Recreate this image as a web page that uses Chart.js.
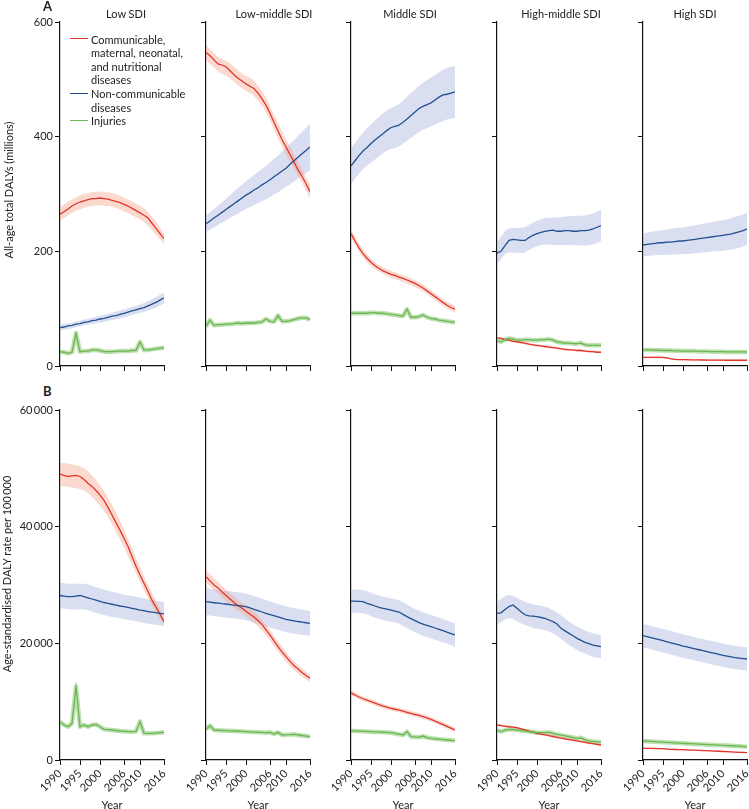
<!DOCTYPE html>
<html>
<head>
<meta charset="utf-8">
<script src="https://cdn.jsdelivr.net/npm/chart.js@4.4.1/dist/chart.umd.min.js"></script>
<style>
  body { margin: 0; background: #fff; font-family: Lato, "Open Sans", sans-serif; color: #222; }
  #wrap { position: relative; width: 749px; height: 809px; overflow: hidden; }
  #wrap canvas { position: absolute; }
  .txt { position: absolute; font-size: 11px; line-height: 1; white-space: nowrap; }
  .swatch { position: absolute; width: 18px; height: 0; }
</style>
</head>
<body>
<div id="wrap"></div>
<script>
// x values shared by every mean line, and the coarser years the uncertainty bands are read at
const years = [1990, 1991, 1992, 1993, 1994, 1995, 1996, 1997, 1998, 1999, 2000, 2001, 2002, 2003,
  2004, 2005, 2006, 2007, 2008, 2009, 2010, 2011, 2012, 2013, 2014, 2015, 2016];
const bandYears = [1990, 1993, 1996, 1999, 2002, 2005, 2008, 2011, 2014, 2016];
const xTicks = [1990, 1995, 2000, 2006, 2010, 2016];
const yTicksA = [0, 200, 400, 600];
const yTicksB = [0, 20000, 40000, 60000];
const sdiGroups = ['Low SDI', 'Low-middle SDI', 'Middle SDI', 'High-middle SDI', 'High SDI'];
const legendLines = [
  ['Communicable,', 'maternal, neonatal,', 'and nutritional', 'diseases'],
  ['Non-communicable', 'diseases'],
  ['Injuries']
];

// ---- A: all-age total DALYs (millions) ----
const dalyLowCmnn = [265, 269, 274, 279, 283, 286, 288, 290, 292, 292, 293, 292, 291, 289, 287, 285, 282, 279, 275, 271, 267, 263, 258, 249, 240, 231, 222];
const dalyLowNcd = [67, 68, 70, 71, 73, 74, 76, 77, 79, 80, 82, 83, 85, 87, 88, 90, 92, 94, 96, 98, 100, 102, 105, 108, 111, 115, 119];
const dalyLowInj = [25, 24, 22, 24, 57, 25, 26, 26, 28, 28, 27, 25, 25, 25, 25.5, 26, 26, 26, 27, 27, 42, 28, 28, 29, 30, 31, 32];
const dalyLowCmnnLo = [253, 267, 276, 280, 279, 273, 263, 251, 229, 213];
const dalyLowCmnnHi = [277, 291, 300, 304, 303, 297, 287, 275, 251, 231];
const dalyLowNcdLo = [62, 66, 71, 74, 79, 83, 89, 94, 102, 110];
const dalyLowNcdHi = [72, 76, 81, 86, 91, 97, 103, 110, 120, 128];

const dalyLowMidCmnn = [547, 541, 534, 527, 525, 522, 515, 508, 502, 497, 492, 488, 484, 476, 466, 455, 441, 425, 410, 395, 382, 369, 356, 342, 331, 318, 304];
const dalyLowMidNcd = [248, 253, 258, 263, 268, 273, 278, 283, 288, 293, 298, 302, 307, 311, 316, 320, 325, 330, 335, 340, 345, 352, 358, 364, 370, 376, 382];
const dalyLowMidInj = [69, 80, 71, 72, 72, 73, 73, 74, 75, 74, 75, 75, 75, 76, 77, 82, 78, 77, 88, 78, 78, 79, 81, 83, 84, 84, 81];
const dalyLowMidCmnnLo = [534, 514, 502, 484, 471, 442, 397, 356, 319, 292];
const dalyLowMidCmnnHi = [560, 540, 528, 510, 497, 468, 423, 382, 343, 316];
const dalyLowMidNcdLo = [234, 246, 258, 270, 281, 291, 303, 317, 332, 341];
const dalyLowMidNcdHi = [262, 280, 298, 316, 333, 349, 367, 387, 408, 423];

const dalyMidCmnn = [231, 218, 206, 196, 188, 181, 175, 170, 166, 163, 160, 158, 155, 153, 150, 147, 144, 140, 136, 131, 126, 121, 116, 111, 106, 102, 99];
const dalyMidNcd = [349, 358, 367, 375, 381, 388, 394, 400, 405, 411, 416, 418, 420, 425, 431, 437, 443, 449, 453, 456, 459, 464, 469, 473, 474, 476, 478];
const dalyMidInj = [92, 92, 92, 92, 92, 93, 93, 92, 92, 91, 90, 89, 88, 87, 99, 85, 85, 86, 89, 85, 83, 82, 80, 79, 78, 77, 76];
const dalyMidCmnnLo = [224, 189, 169, 157, 149, 141, 130, 115, 100, 93];
const dalyMidCmnnHi = [238, 203, 181, 169, 161, 153, 142, 127, 112, 105];
const dalyMidNcdLo = [318, 343, 360, 376, 383, 398, 412, 421, 430, 433];
const dalyMidNcdHi = [380, 407, 428, 446, 457, 476, 494, 507, 520, 523];

const dalyHighMidCmnn = [49, 48, 46, 45, 43, 42, 41, 40, 38, 37, 36, 35, 34, 33, 32, 31, 30, 29, 28, 28, 27, 27, 26, 25, 25, 24, 24];
const dalyHighMidNcd = [197, 200, 210, 219, 221, 220, 219, 219, 224, 228, 231, 233, 235, 236, 237, 235, 235, 236, 236, 235, 235, 236, 236, 237, 239, 242, 245];
const dalyHighMidInj = [44, 42, 46, 48, 47, 45, 45, 46, 46, 45, 45, 46, 46, 47, 45, 42, 41, 40, 40, 39, 39, 40, 37, 36, 36, 36, 36];
const dalyHighMidCmnnLo = [47, 43, 39, 35, 32, 29, 26, 25, 23, 22];
const dalyHighMidCmnnHi = [51, 47, 43, 39, 36, 33, 30, 29, 27, 26];
const dalyHighMidNcdLo = [178, 198, 197, 206, 212, 211, 211, 210, 212, 218];
const dalyHighMidNcdHi = [216, 240, 241, 250, 258, 259, 261, 262, 266, 272];

const dalyHighCmnn = [15, 15, 15, 15, 15, 15, 14, 12.5, 11.5, 11, 11, 11, 10.8, 10.7, 10.6, 10.5, 10.4, 10.3, 10.2, 10.2, 10.1, 10, 10, 10, 10, 10, 10];
const dalyHighNcd = [211, 212, 213, 214, 215, 215, 216, 216, 217, 218, 218, 219, 220, 221, 222, 223, 224, 225, 226, 227, 228, 229, 230, 232, 234, 236, 239];
const dalyHighInj = [28, 28, 28, 27.5, 27.5, 27, 27, 27, 26.5, 26.5, 26, 26, 26, 26, 25.5, 25.5, 25.5, 25, 25, 25, 25, 24.5, 24.5, 24.5, 24.5, 24.5, 24.5];
const dalyHighCmnnLo = [13.5, 13.5, 12.5, 9.5, 9.3, 9, 8.7, 8.5, 8.5, 8.5];
const dalyHighCmnnHi = [16.5, 16.5, 15.5, 12.5, 12.3, 12, 11.7, 11.5, 11.5, 11.5];
const dalyHighNcdLo = [191, 193, 194, 195, 196, 198, 200, 202, 206, 211];
const dalyHighNcdHi = [231, 235, 238, 241, 244, 248, 252, 256, 262, 267];

// ---- B: age-standardised DALY rate per 100 000 ----
const rateLowCmnn = [49000, 48800, 48600, 48700, 48800, 48600, 48100, 47450, 46900, 46200, 45400, 44500, 43300, 42000, 40700, 39400, 38000, 36600, 34900, 33200, 31700, 30300, 28900, 27400, 26200, 25000, 23700];
const rateLowNcd = [28200, 28100, 28000, 28000, 28100, 28200, 28000, 27800, 27600, 27400, 27200, 27000, 26850, 26700, 26550, 26400, 26300, 26150, 26000, 25850, 25700, 25600, 25450, 25350, 25250, 25150, 25050];
const rateLowInj = [6570, 6000, 5710, 6290, 12570, 5710, 6000, 5710, 6000, 6100, 5710, 5260, 5200, 5140, 5050, 4970, 4920, 4880, 4860, 4900, 6570, 4570, 4570, 4570, 4620, 4680, 4740];
const rateLowCmnnLo = [47000, 46700, 46200, 44400, 41600, 37800, 33500, 29100, 25200, 23000];
const rateLowCmnnHi = [51000, 50700, 50000, 48000, 45000, 41000, 36300, 31500, 27200, 24400];
const rateLowNcdLo = [26000, 25800, 25800, 25200, 24700, 24300, 23900, 23500, 23200, 23000];
const rateLowNcdHi = [30400, 30200, 30200, 29600, 29000, 28500, 28100, 27700, 27300, 27100];

const rateLowMidCmnn = [31430, 30700, 30000, 29500, 28800, 28200, 27600, 27000, 26500, 26000, 25500, 25000, 24500, 23900, 23200, 22300, 21400, 20430, 19430, 18550, 17710, 16900, 16200, 15600, 15000, 14500, 14000];
const rateLowMidNcd = [27140, 27050, 26960, 26880, 26800, 26740, 26650, 26560, 26470, 26380, 26290, 26060, 25830, 25600, 25370, 25140, 24930, 24730, 24520, 24310, 24110, 23990, 23860, 23740, 23640, 23530, 23430];
const rateLowMidInj = [5260, 5880, 5140, 5100, 5060, 5030, 5000, 4970, 4930, 4900, 4860, 4820, 4790, 4750, 4720, 4680, 4750, 4460, 4740, 4290, 4320, 4350, 4400, 4300, 4200, 4100, 4000];
const rateLowMidCmnnLo = [30400, 28500, 26600, 25100, 23500, 21400, 18600, 16100, 14300, 13400];
const rateLowMidCmnnHi = [32500, 30500, 28600, 26900, 25500, 23200, 20300, 17700, 15700, 14600];
const rateLowMidNcdLo = [24840, 24580, 24350, 24080, 23560, 22880, 22290, 21780, 21480, 21310];
const rateLowMidNcdHi = [29440, 29180, 28950, 28680, 28100, 27400, 26750, 26200, 25800, 25550];

const rateMidCmnn = [11500, 11150, 10800, 10500, 10250, 10000, 9750, 9500, 9250, 9050, 8860, 8700, 8530, 8360, 8180, 8000, 7800, 7630, 7450, 7220, 6970, 6680, 6380, 6080, 5770, 5450, 5140];
const rateMidNcd = [27250, 27220, 27180, 27140, 26860, 26630, 26400, 26170, 26010, 25850, 25700, 25540, 25370, 24970, 24570, 24230, 23880, 23540, 23310, 23090, 22860, 22630, 22400, 22170, 21930, 21680, 21430];
const rateMidInj = [5000, 4980, 4950, 4920, 4890, 4860, 4820, 4790, 4760, 4720, 4680, 4550, 4420, 4290, 4860, 4000, 3950, 3890, 4110, 3850, 3710, 3640, 3570, 3500, 3430, 3370, 3310];
const rateMidCmnnLo = [11100, 10100, 9350, 8650, 8130, 7600, 7050, 6280, 5370, 4740];
const rateMidCmnnHi = [11900, 10900, 10150, 9450, 8930, 8400, 7850, 7080, 6170, 5540];
const rateMidNcdLo = [25250, 25140, 24400, 23850, 23370, 22230, 21310, 20630, 19930, 19430];
const rateMidNcdHi = [29250, 29140, 28400, 27850, 27370, 26230, 25310, 24630, 23930, 23430];

const rateHighMidCmnn = [6000, 5900, 5800, 5700, 5620, 5540, 5350, 5150, 4950, 4760, 4570, 4430, 4300, 4160, 4030, 3890, 3760, 3640, 3510, 3390, 3260, 3140, 3030, 2910, 2800, 2680, 2570];
const rateHighMidNcd = [25140, 25230, 25800, 26300, 26570, 26000, 25430, 24900, 24690, 24650, 24570, 24430, 24290, 24000, 23710, 23310, 22570, 22140, 21710, 21290, 20860, 20510, 20170, 19940, 19710, 19570, 19430];
const rateHighMidInj = [5140, 4860, 5100, 5260, 5200, 5140, 5050, 4960, 4870, 4780, 4680, 4680, 4700, 4750, 4550, 4400, 4260, 4120, 3990, 3850, 3710, 3800, 3450, 3260, 3180, 3100, 3030];
const rateHighMidCmnnLo = [5800, 5500, 5150, 4560, 4100, 3690, 3310, 2940, 2600, 2370];
const rateHighMidCmnnHi = [6200, 5900, 5550, 4960, 4500, 4090, 3710, 3340, 3000, 2770];
const rateHighMidNcdLo = [23140, 24300, 23430, 22650, 22290, 21310, 19710, 18510, 17710, 17430];
const rateHighMidNcdHi = [27140, 28300, 27430, 26650, 26290, 25310, 23710, 22510, 21710, 21430];

const rateHighCmnn = [2000, 1990, 1980, 1970, 1950, 1940, 1880, 1830, 1800, 1780, 1770, 1740, 1710, 1680, 1650, 1620, 1590, 1560, 1530, 1500, 1460, 1420, 1390, 1350, 1320, 1290, 1260];
const rateHighNcd = [21310, 21140, 20970, 20790, 20620, 20450, 20270, 20090, 19900, 19720, 19540, 19380, 19220, 19060, 18900, 18740, 18580, 18420, 18260, 18100, 17940, 17810, 17670, 17540, 17460, 17380, 17310];
const rateHighInj = [3260, 3220, 3190, 3140, 3100, 3070, 3020, 2980, 2950, 2900, 2860, 2830, 2790, 2760, 2720, 2690, 2650, 2620, 2580, 2550, 2510, 2480, 2440, 2410, 2370, 2330, 2290];
const rateHighCmnnLo = [1900, 1870, 1780, 1680, 1610, 1520, 1430, 1320, 1220, 1160];
const rateHighCmnnHi = [2100, 2070, 1980, 1880, 1810, 1720, 1630, 1520, 1420, 1360];
const rateHighNcdLo = [19310, 18790, 18270, 17720, 17220, 16740, 16260, 15810, 15460, 15310];
const rateHighNcdHi = [23310, 22790, 22270, 21720, 21220, 20740, 20260, 19810, 19460, 19310];

// panel tables built from the arrays above
const rows = [
  [
    [dalyLowCmnn, dalyLowNcd, dalyLowInj, dalyLowCmnnLo, dalyLowCmnnHi, dalyLowNcdLo, dalyLowNcdHi],
    [dalyLowMidCmnn, dalyLowMidNcd, dalyLowMidInj, dalyLowMidCmnnLo, dalyLowMidCmnnHi, dalyLowMidNcdLo, dalyLowMidNcdHi],
    [dalyMidCmnn, dalyMidNcd, dalyMidInj, dalyMidCmnnLo, dalyMidCmnnHi, dalyMidNcdLo, dalyMidNcdHi],
    [dalyHighMidCmnn, dalyHighMidNcd, dalyHighMidInj, dalyHighMidCmnnLo, dalyHighMidCmnnHi, dalyHighMidNcdLo, dalyHighMidNcdHi],
    [dalyHighCmnn, dalyHighNcd, dalyHighInj, dalyHighCmnnLo, dalyHighCmnnHi, dalyHighNcdLo, dalyHighNcdHi]
  ],
  [
    [rateLowCmnn, rateLowNcd, rateLowInj, rateLowCmnnLo, rateLowCmnnHi, rateLowNcdLo, rateLowNcdHi],
    [rateLowMidCmnn, rateLowMidNcd, rateLowMidInj, rateLowMidCmnnLo, rateLowMidCmnnHi, rateLowMidNcdLo, rateLowMidNcdHi],
    [rateMidCmnn, rateMidNcd, rateMidInj, rateMidCmnnLo, rateMidCmnnHi, rateMidNcdLo, rateMidNcdHi],
    [rateHighMidCmnn, rateHighMidNcd, rateHighMidInj, rateHighMidCmnnLo, rateHighMidCmnnHi, rateHighMidNcdLo, rateHighMidNcdHi],
    [rateHighCmnn, rateHighNcd, rateHighInj, rateHighCmnnLo, rateHighCmnnHi, rateHighNcdLo, rateHighNcdHi]
  ]
];

const RED = '#e3342b', RED_BAND = 'rgba(246,165,140,0.42)';
const BLUE = '#23508f', BLUE_BAND = 'rgba(165,176,222,0.42)';
const GREEN = '#6db653', GREEN_BAND = 'rgba(125,195,100,0.5)';
const FONT = 'Lato, "Open Sans", sans-serif';

const colX = [60, 206, 351, 497, 643];   // pixel x of each panel's y axis
const wrap = document.getElementById('wrap');

function fmt(v) {
  return String(v).replace(/(\d)(?=\d{3}$)/, '$1\u2009');
}
function pts(xs, ys) {
  return xs.map((x, i) => ({ x: x, y: ys[i] }));
}
function addText(txt, css) {
  const d = document.createElement('div');
  d.className = 'txt';
  d.textContent = txt;
  Object.assign(d.style, css);
  wrap.appendChild(d);
  return d;
}

function makePanel(r, c, set) {
  const isA = r === 0;
  const plotH = isA ? 344 : 350;
  const xH = isA ? 8 : 45;
  const w = 156, h = 8 + plotH + xH;
  const canvas = document.createElement('canvas');
  canvas.width = w;
  canvas.height = h;
  canvas.style.left = (colX[c] - 50) + 'px';
  canvas.style.top = (isA ? 14 : 402) + 'px';
  canvas.style.width = w + 'px';
  canvas.style.height = h + 'px';
  wrap.appendChild(canvas);

  const [cmnn, ncd, inj, cLo, cHi, nLo, nHi] = set;
  const band = { borderWidth: 0, pointRadius: 0, order: 10, cubicInterpolationMode: 'monotone' };
  const line = { pointRadius: 0, borderWidth: 1.3, fill: false, order: 0 };

  new Chart(canvas, {
    type: 'line',
    data: {
      datasets: [
        Object.assign({ data: pts(bandYears, cLo), fill: false }, band),
        Object.assign({ data: pts(bandYears, cHi), fill: '-1', backgroundColor: RED_BAND }, band),
        Object.assign({ data: pts(bandYears, nLo), fill: false }, band),
        Object.assign({ data: pts(bandYears, nHi), fill: '-1', backgroundColor: BLUE_BAND }, band),
        Object.assign({}, line, { data: pts(years, inj), borderColor: GREEN_BAND, borderWidth: 4.5, order: 5, borderJoinStyle: 'round' }),
        Object.assign({}, line, { data: pts(years, inj), borderColor: GREEN }),
        Object.assign({}, line, { data: pts(years, ncd), borderColor: BLUE }),
        Object.assign({}, line, { data: pts(years, cmnn), borderColor: RED })
      ]
    },
    options: {
      responsive: false,
      animation: false,
      layout: { padding: { top: 8, right: 2, left: 0, bottom: 0 } },
      plugins: { legend: { display: false }, tooltip: { enabled: false } },
      scales: {
        x: {
          type: 'linear',
          min: 1990,
          max: 2016,
          afterBuildTicks: s => { s.ticks = xTicks.map(v => ({ value: v })); },
          afterFit: s => { s.height = xH; s.paddingLeft = 0; s.paddingRight = 0; },
          grid: { drawOnChartArea: false, drawTicks: true, tickLength: 5, color: '#111', lineWidth: 1 },
          border: { display: true, color: '#111', width: 1.2 },
          ticks: {
            display: !isA,
            autoSkip: false,
            minRotation: 45,
            maxRotation: 45,
            padding: 2,
            color: '#222',
            font: { family: FONT, size: 11 },
            callback: v => String(v)
          }
        },
        y: {
          min: 0,
          max: isA ? 600 : 60000,
          afterBuildTicks: s => { s.ticks = (isA ? yTicksA : yTicksB).map(v => ({ value: v })); },
          afterFit: s => { s.width = 50; s.paddingTop = 0; s.paddingBottom = 0; },
          grid: { drawOnChartArea: false, drawTicks: true, tickLength: 5, color: '#111', lineWidth: 1 },
          border: { display: true, color: '#111', width: 1.2 },
          ticks: {
            display: c === 0,
            padding: 2,
            color: '#222',
            font: { family: FONT, size: 11 },
            callback: v => fmt(v)
          }
        }
      }
    }
  });
}

rows.forEach((row, r) => row.forEach((set, c) => makePanel(r, c, set)));

// panel titles, axis titles, panel letters
const titleX = [126, 274, 410, 561, 695];
sdiGroups.forEach((g, c) => {
  addText(g, { left: titleX[c] + 'px', top: '8px', transform: 'translateX(-50%)' });
  addText('Year', { left: (colX[c] + 52) + 'px', top: '799px', transform: 'translateX(-50%)' });
});
addText('A', { left: '43px', top: '0px', fontWeight: 'bold', fontSize: '13px' });
addText('B', { left: '43px', top: '385px', fontWeight: 'bold', fontSize: '13px' });
addText('All-age total DALYs (millions)', {
  left: '8px', top: '190px', transform: 'translate(-50%,-50%) rotate(-90deg)'
});
addText('Age-standardised DALY rate per 100\u2009000', {
  left: '6px', top: '574px', transform: 'translate(-50%,-50%) rotate(-90deg)'
});

// legend inside the first panel
const legColors = [RED, BLUE, GREEN];
let ly = 39.3;
legendLines.forEach((lines, i) => {
  const sw = document.createElement('div');
  sw.className = 'swatch';
  sw.style.left = '70px';
  sw.style.top = Math.round(ly - 1) + 'px';
  sw.style.borderTop = '1.5px solid ' + legColors[i];
  wrap.appendChild(sw);
  lines.forEach(t => {
    addText(t, { left: '91px', top: (ly - 6.8) + 'px', lineHeight: '13.6px' });
    ly += 13.6;
  });
});
</script>
</body>
</html>
